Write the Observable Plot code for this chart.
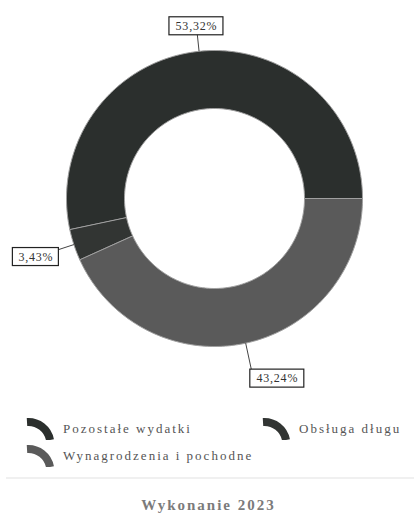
<!DOCTYPE html>
<html>
<head>
<meta charset="utf-8">
<script src="https://cdn.jsdelivr.net/npm/d3@7"></script>
<script src="https://cdn.jsdelivr.net/npm/@observablehq/plot@0.6"></script>
<style>
  html, body { margin: 0; padding: 0; background: #fff; }
  #wrap { position: relative; width: 417px; height: 521px; overflow: hidden; }
  #chart svg text { letter-spacing: 0.8px; }
  .leg { position: absolute; font-family: "Liberation Serif", serif; font-size: 13px; color: #555; letter-spacing: 2px; white-space: nowrap; display: flex; align-items: center; }
  .leg svg { margin-right: 8px; }
  #title { position: absolute; left: 0; width: 417px; top: 497px; text-align: center; font-family: "Liberation Serif", serif; font-weight: bold; font-size: 15px; color: #7b7b7b; letter-spacing: 2px; }
  #rule { position: absolute; left: 6px; width: 408px; top: 477px; height: 0; border-top: 2px solid #f0f0f0; }
</style>
</head>
<body>
<div id="wrap">
  <div id="chart"></div>
  <div id="legend"></div>
  <div id="rule"></div>
  <div id="title"></div>
</div>
<script>
// ---- data ----
const categories = ["Wynagrodzenia i pochodne", "Obsługa długu", "Pozostałe wydatki"];
const shares = [43.24, 3.43, 53.32];
const colors = ["#5a5a5a", "#323533", "#2b2f2d"];
const legendOrder = ["Pozostałe wydatki", "Obsługa długu", "Wynagrodzenia i pochodne"];
const titleText = "Wykonanie 2023";

// ---- layout ----
const W = 417, H = 400;
const cx = 214, cy = 198, Rpx = 148;   // donut centre and outer radius (px)
const inner = 90 / 148;                // inner radius relative to outer
const labelK = [1.245, 1.27, 1.17];    // label distance (× outer radius)
const labelDx = [24, 0, 0];            // extra horizontal nudge in px

const data = categories.map((name, i) => ({name, value: shares[i]}));
const arcs = d3.pie().sort(null).value(d => d.value)
  .startAngle(Math.PI / 2).endAngle(Math.PI / 2 + 2 * Math.PI)(data);

// polygon points for each slice (unit radius, y up)
const pts = [];
for (const a of arcs) {
  const n = Math.max(4, Math.ceil((a.endAngle - a.startAngle) / (Math.PI / 180)));
  for (let k = 0; k <= n; k++) {
    const t = a.startAngle + (a.endAngle - a.startAngle) * k / n;
    pts.push({name: a.data.name, x: Math.sin(t), y: Math.cos(t)});
  }
  for (let k = n; k >= 0; k--) {
    const t = a.startAngle + (a.endAngle - a.startAngle) * k / n;
    pts.push({name: a.data.name, x: inner * Math.sin(t), y: inner * Math.cos(t)});
  }
}

const labels = arcs.map((a, i) => {
  const m = (a.startAngle + a.endAngle) / 2;
  const txt = a.data.value.toFixed(2).replace(".", ",") + "%";
  const lx = labelK[i] * Math.sin(m), ly = labelK[i] * Math.cos(m);
  const hw = (txt.length * 8 + 6) / 2 / Rpx, hh = 9 / Rpx;
  const x = lx + labelDx[i] / Rpx;
  return {
    txt, x, y: ly,
    x0: Math.sin(m), y0: Math.cos(m), xe: lx, ye: ly,
    x1: x - hw, x2: x + hw, y1: ly - hh, y2: ly + hh
  };
});

const plot = Plot.plot({
  width: W, height: H,
  margin: 0,
  x: {domain: [-cx / Rpx, (W - cx) / Rpx], axis: null},
  y: {domain: [-(H - cy) / Rpx, cy / Rpx], axis: null},
  color: {domain: categories, range: colors},
  style: {fontFamily: "'Liberation Serif', serif", background: "white"},
  marks: [
    Plot.line(pts, {x: "x", y: "y", z: "name", fill: "name", stroke: "#a0a0a0", strokeWidth: 1, curve: "linear-closed"}),
    Plot.link(labels, {x1: "x0", y1: "y0", x2: "xe", y2: "ye", stroke: "#444", strokeWidth: 1}),
    Plot.rect(labels, {x1: "x1", x2: "x2", y1: "y1", y2: "y2", fill: "white", stroke: "#222", strokeWidth: 1.2}),
    Plot.text(labels, {x: "x", y: "y", text: "txt", fill: "#333", fontSize: 12})
  ]
});
document.getElementById("chart").appendChild(plot);

// ---- legend ----
const legPos = {
  "Pozostałe wydatki": [26, 417],
  "Obsługa długu": [262, 417],
  "Wynagrodzenia i pochodne": [26, 444]
};
const legend = document.getElementById("legend");
for (const name of legendOrder) {
  const c = colors[categories.indexOf(name)];
  const [lx, ly] = legPos[name];
  const div = document.createElement("div");
  div.className = "leg";
  div.style.left = lx + "px";
  div.style.top = ly + "px";
  div.innerHTML = `<svg width="29" height="23" viewBox="0 0 29 23"><path d="M1,5 A22,22 0 0 1 24,23" fill="none" stroke="${c}" stroke-width="8"/></svg><span>${name}</span>`;
  legend.appendChild(div);
}
document.getElementById("title").textContent = titleText;
</script>
</body>
</html>
